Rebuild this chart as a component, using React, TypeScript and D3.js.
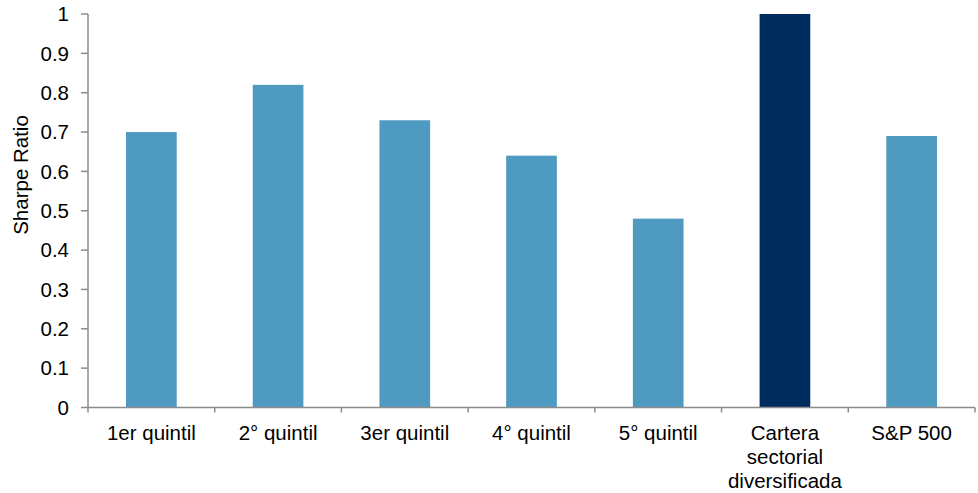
import React from "react";
import * as d3 from "d3";

const categories: string[][] = [
  ["1er quintil"],
  ["2° quintil"],
  ["3er quintil"],
  ["4° quintil"],
  ["5° quintil"],
  ["Cartera", "sectorial", "diversificada"],
  ["S&P 500"],
];
const values: number[] = [0.7, 0.82, 0.73, 0.64, 0.48, 1.0, 0.69];
const highlight: boolean[] = [false, false, false, false, false, true, false];
const yTicks: number[] = [0, 0.1, 0.2, 0.3, 0.4, 0.5, 0.6, 0.7, 0.8, 0.9, 1];
const yLabel = "Sharpe Ratio";

const W = 978;
const H = 493;
const left = 88;
const right = 975;
const top = 14;
const bottom = 407.5;
const FS = 20.5;

export default function App() {
  const x = d3
    .scaleBand<number>()
    .domain(values.map((_, i) => i))
    .range([left, right])
    .paddingInner(0.6)
    .paddingOuter(0.3);
  const step = (right - left) / values.length;
  const y = d3.scaleLinear().domain([0, 1]).range([bottom, top]);
  const axisColor = "#8c8c8c";
  const font = "'Liberation Sans', Arial, sans-serif";
  return (
    <svg
      width={W}
      height={H}
      style={{ position: "absolute", left: 0, top: 0 }}
      fontFamily={font}
    >
      <rect width={W} height={H} fill="#fff" />
      {values.map((v, i) => (
        <rect
          key={i}
          x={x(i)}
          y={y(v)}
          width={x.bandwidth()}
          height={y(0) - y(v)}
          fill={highlight[i] ? "#002C5D" : "#4F9AC1"}
        />
      ))}
      <line x1={left} x2={left} y1={top} y2={bottom} stroke={axisColor} strokeWidth={1.5} />
      <line x1={left} x2={right} y1={bottom} y2={bottom} stroke={axisColor} strokeWidth={1.5} />
      {yTicks.map((t) => (
        <g key={t}>
          <line x1={left - 7} x2={left} y1={y(t)} y2={y(t)} stroke={axisColor} strokeWidth={1.5} />
          <text x={69} y={y(t)} dy="0.35em" textAnchor="end" fontSize={FS} fill="#000">
            {d3.format("")(t)}
          </text>
        </g>
      ))}
      {d3.range(values.length + 1).map((i) => (
        <line
          key={i}
          x1={left + i * step}
          x2={left + i * step}
          y1={bottom}
          y2={bottom + 5}
          stroke={axisColor}
          strokeWidth={1.5}
        />
      ))}
      {categories.map((lines, i) => (
        <text
          key={i}
          x={(x(i) as number) + x.bandwidth() / 2}
          y={440}
          textAnchor="middle"
          fontSize={FS}
          fill="#000"
        >
          {lines.map((l, j) => (
            <tspan key={j} x={(x(i) as number) + x.bandwidth() / 2} dy={j === 0 ? 0 : 24}>
              {l}
            </tspan>
          ))}
        </text>
      ))}
      <text
        transform={`translate(28,175) rotate(-90)`}
        textAnchor="middle"
        fontSize={FS}
        fill="#000"
      >
        {yLabel}
      </text>
    </svg>
  );
}
